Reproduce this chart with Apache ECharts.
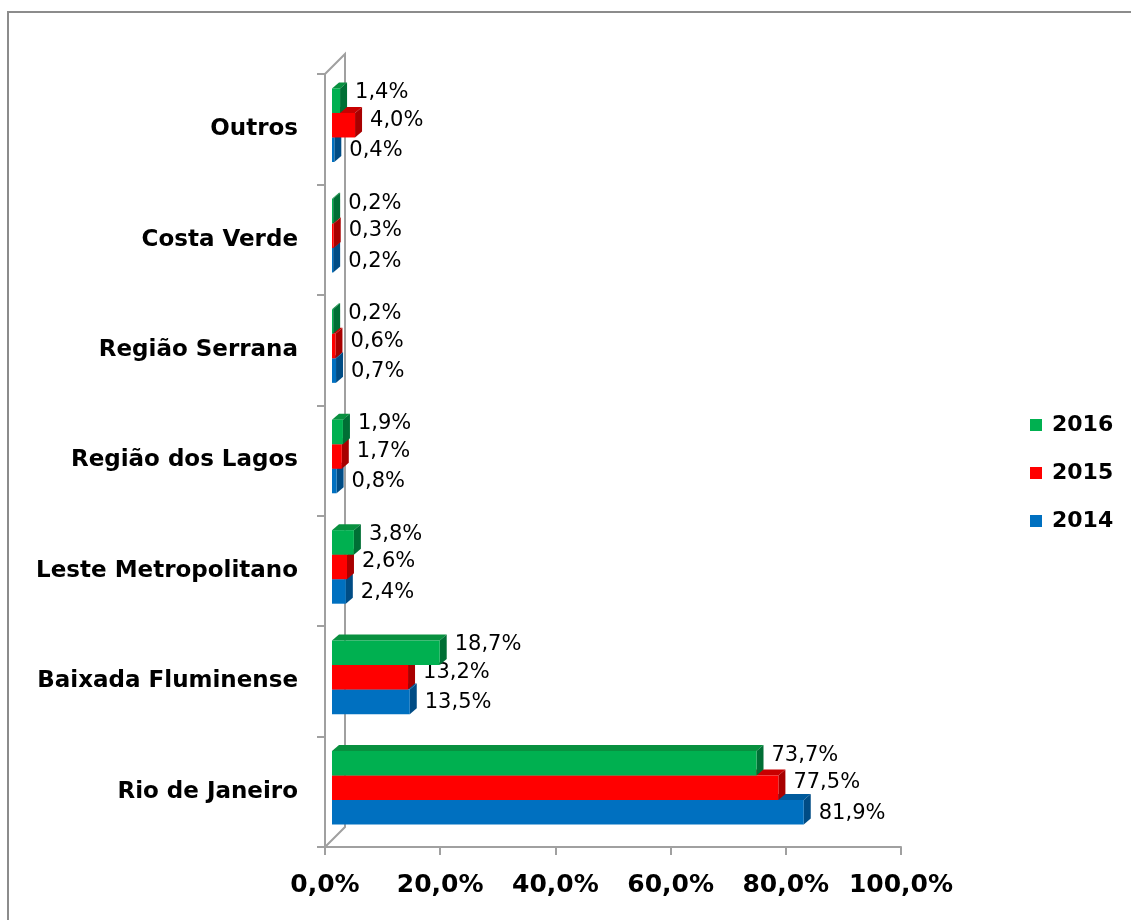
<!DOCTYPE html>
<html>
<head>
<meta charset="utf-8">
<script src="https://cdn.jsdelivr.net/npm/echarts@6/dist/echarts.min.js"></script>
<style>
  html, body { margin: 0; padding: 0; background: #fff; }
  #chart { width: 1131px; height: 920px; }
</style>
</head>
<body>
<div id="chart"></div>
<script>
var categories = ['Rio de Janeiro', 'Baixada Fluminense', 'Leste Metropolitano',
    'Região dos Lagos', 'Região Serrana', 'Costa Verde', 'Outros'];
var years = ['2014', '2015', '2016'];
var v2014 = [81.9, 13.5, 2.4, 0.8, 0.7, 0.2, 0.4];
var v2015 = [77.5, 13.2, 2.6, 1.7, 0.6, 0.3, 4.0];
var v2016 = [73.7, 18.7, 3.8, 1.9, 0.2, 0.2, 1.4];

// front, top, side colours per year
var colors = {
    '2014': ['#0070C0', '#005A9C', '#004C85'],
    '2015': ['#FF0000', '#C80000', '#A80000'],
    '2016': ['#00B050', '#08903F', '#006F35']
};

var grid = { left: 325, top: 74, width: 576, height: 773 };
var depth = 20;     // wall depth
var dx = 7, dy = 6; // bar depth

var chart = echarts.init(document.getElementById('chart'));

function fmt(v) {
    return v.toFixed(1).replace('.', ',') + '%';
}

function makeSeries(name, values, k, labelDy) {
    var c = colors[name];
    return {
        name: name,
        type: 'custom',
        itemStyle: { color: c[0] },
        encode: { x: 1, y: 0 },
        data: values.map(function (v, i) { return [i, v]; }),
        renderItem: function (params, api) {
            var idx = api.value(0), val = api.value(1);
            var base = api.coord([0, idx]);
            var end = api.coord([val, idx]);
            var band = api.size([0, 1])[1];
            var h = band * 0.222;
            var top = base[1] - 4 - 1.5 * h + k * h;
            var x0 = base[0] + 7, x1 = end[0] + 7;
            return {
                type: 'group',
                children: [
                    { type: 'polygon', shape: { points: [[x0, top], [x0 + dx, top - dy], [x1 + dx, top - dy], [x1, top]] },
                      style: { fill: c[1] } },
                    { type: 'polygon', shape: { points: [[x1, top], [x1 + dx, top - dy], [x1 + dx, top + h - dy], [x1, top + h]] },
                      style: { fill: c[2] } },
                    { type: 'rect', shape: { x: x0, y: top, width: x1 - x0, height: h },
                      style: { fill: c[0] } },
                    { type: 'text', style: { text: fmt(val), x: x1 + dx + 8, y: top + h / 2 + labelDy,
                      align: 'left', verticalAlign: 'middle', fill: '#000',
                      font: '21px "DejaVu Sans"' } }
                ]
            };
        }
    };
}

var option = {
    animation: false,
    textStyle: { fontFamily: 'DejaVu Sans' },
    grid: grid,
    legend: {
        orient: 'vertical',
        left: 1030,
        top: 414,
        padding: 0,
        data: ['2016', '2015', '2014'],
        icon: 'rect',
        itemWidth: 12,
        itemHeight: 12,
        itemGap: 26,
        textStyle: { fontSize: 22, fontWeight: 'bold', color: '#000', padding: [0, 0, 0, 5] }
    },
    xAxis: {
        type: 'value',
        min: 0,
        max: 100,
        interval: 20,
        axisLine: { show: true, lineStyle: { color: '#A0A0A0', width: 2 } },
        axisTick: { show: true, length: 8, lineStyle: { color: '#A0A0A0', width: 2 } },
        splitLine: { show: false },
        axisLabel: {
            margin: 26,
            fontSize: 25,
            fontWeight: 'bold',
            color: '#000',
            formatter: function (v) { return fmt(v); }
        }
    },
    yAxis: {
        type: 'category',
        data: categories,
        axisLine: { show: true, lineStyle: { color: '#A0A0A0', width: 2 } },
        axisTick: { show: true, length: 8, lineStyle: { color: '#A0A0A0', width: 2 } },
        axisLabel: {
            margin: 27,
            fontSize: 23,
            fontWeight: 'bold',
            color: '#000'
        }
    },
    graphic: [
        { type: 'polyline', shape: { points: [[8, 930], [8, 12], [1140, 12]] },
          style: { fill: 'none', stroke: '#8C8C8C', lineWidth: 2 }, z: -10 },
        { type: 'polyline', shape: { points: [
            [grid.left, grid.top],
            [grid.left + depth, grid.top - depth],
            [grid.left + depth, grid.top + grid.height - depth],
            [grid.left, grid.top + grid.height]] },
          style: { fill: 'none', stroke: '#A0A0A0', lineWidth: 2 }, z: -5 }
    ],
    series: [
        makeSeries('2014', v2014, 2, 1),
        makeSeries('2015', v2015, 1, -5),
        makeSeries('2016', v2016, 0, -8)
    ]
};

chart.setOption(option);
</script>
</body>
</html>
